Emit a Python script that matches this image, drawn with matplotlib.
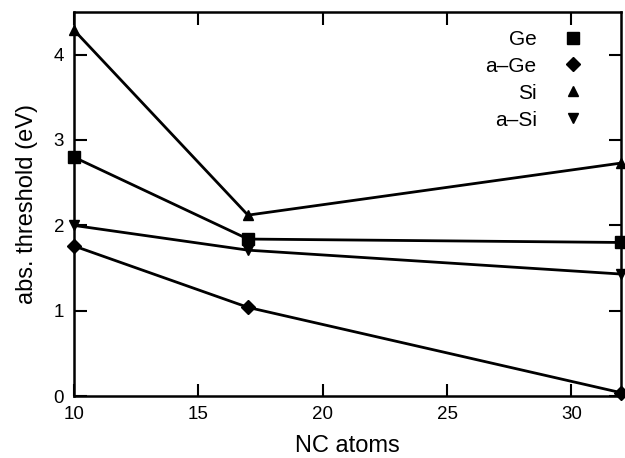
import matplotlib.pyplot as plt

plt.rcParams['font.family'] = ['Liberation Sans', 'DejaVu Sans']

# NC size (number of atoms) and absorption thresholds in eV
nc_atoms = [10, 17, 32]
ge_thr = [2.80, 1.84, 1.80]
age_thr = [1.76, 1.04, 0.04]
si_thr = [4.29, 2.12, 2.73]
asi_thr = [2.00, 1.71, 1.43]

fig, ax = plt.subplots(figsize=(6.25, 4.58), dpi=100)
fig.subplots_adjust(left=0.118, right=0.994, top=0.974, bottom=0.135)

lw = 2.0
ax.plot(nc_atoms, ge_thr, color='black', lw=lw, marker='s', ms=9, label='Ge', clip_on=False)
ax.plot(nc_atoms, age_thr, color='black', lw=lw, marker='D', ms=7, label='a\u2013Ge', clip_on=False)
ax.plot(nc_atoms, si_thr, color='black', lw=lw, marker='^', ms=7, label='Si', clip_on=False)
ax.plot(nc_atoms, asi_thr, color='black', lw=lw, marker='v', ms=7, label='a\u2013Si', clip_on=False)

ax.set_xlim(10, 32)
ax.set_ylim(0, 4.5)
ax.set_xticks([10, 15, 20, 25, 30])
ax.set_yticks([0, 1, 2, 3, 4])
ax.tick_params(direction='in', length=9, width=1.5, top=True, right=True,
               labelsize=13.5, pad=7)
for s in ax.spines.values():
    s.set_linewidth(1.8)

ax.set_xlabel('NC atoms', fontsize=17, labelpad=9)
ax.set_ylabel('abs. threshold (eV)', fontsize=17, labelpad=11)

# legend: markers only, text on the left
handles, labels = ax.get_legend_handles_labels()
leg_handles = [plt.Line2D([], [], color='black', ls='none', marker=h.get_marker(),
                          ms=h.get_markersize()) for h in handles]
leg = ax.legend(leg_handles, labels, loc='upper right', frameon=False,
                bbox_to_anchor=(0.956, 0.975), borderaxespad=0,
                markerfirst=False, fontsize=15, handlelength=1.5,
                labelspacing=0.38, handletextpad=1.0)
for t in leg.get_texts():
    t.set_ha('right')
leg._legend_box.align = 'right'

plt.savefig('out.png', dpi=100)
